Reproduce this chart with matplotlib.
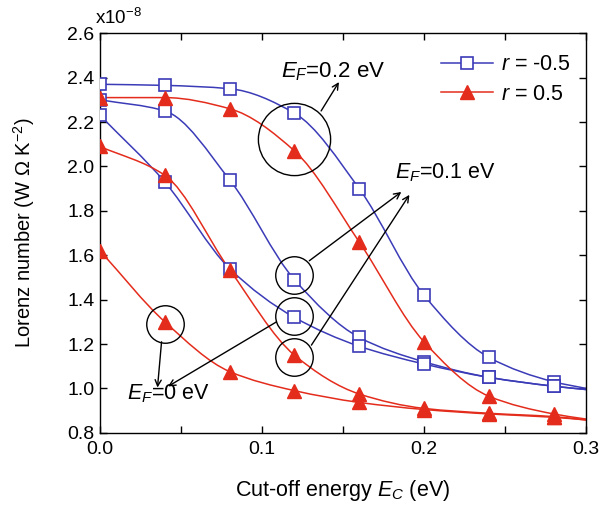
import numpy as np
import matplotlib
matplotlib.use("Agg")
import matplotlib.pyplot as plt
from matplotlib.path import Path
from matplotlib.patches import PathPatch
from matplotlib.lines import Line2D
from matplotlib.ticker import MultipleLocator

plt.rcParams.update({
    "font.family": ["Liberation Sans", "DejaVu Sans"], "font.size": 14,
    "mathtext.fontset": "custom", "mathtext.rm": "Liberation Sans",
    "mathtext.it": "Liberation Sans:italic", "mathtext.bf": "Liberation Sans:bold",
    "axes.linewidth": 1.0,
    "xtick.direction": "in", "ytick.direction": "in",
    "xtick.top": True, "ytick.right": True,
})

# Lorenz number (x1e-8 W Ohm K^-2) vs cut-off energy, markers every 0.04 eV
ec = [0.0, 0.04, 0.08, 0.12, 0.16, 0.20, 0.24, 0.28]
ec_end = 0.30
neg_ef02 = [2.37, 2.365, 2.35, 2.24, 1.90, 1.42, 1.14, 1.03]
neg_ef01 = [2.30, 2.25, 1.94, 1.49, 1.23, 1.12, 1.05, 1.01]
neg_ef00 = [2.23, 1.93, 1.54, 1.32, 1.19, 1.11, 1.05, 1.01]
pos_ef02 = [2.31, 2.31, 2.26, 2.07, 1.66, 1.21, 0.965, 0.885]
pos_ef01 = [2.09, 1.96, 1.535, 1.15, 0.975, 0.91, 0.888, 0.873]
pos_ef00 = [1.62, 1.30, 1.076, 0.99, 0.937, 0.905, 0.885, 0.87]
# curve values at the right edge (no marker there)
neg_end = [1.00, 0.995, 0.995]
pos_end = [0.862, 0.858, 0.858]

BLUE = "#3b3bb8"
RED = "#e42c1c"


def smooth_path(xs, ys):
    """Monotone (Fritsch-Carlson) cubic Bezier path through the points."""
    x = np.asarray(xs, float); y = np.asarray(ys, float)
    h = np.diff(x); d = np.diff(y) / h
    m = np.zeros_like(y)
    m[0], m[-1] = d[0], d[-1]
    for i in range(1, len(y) - 1):
        if d[i - 1] * d[i] > 0:
            w1 = 2 * h[i] + h[i - 1]; w2 = h[i] + 2 * h[i - 1]
            m[i] = (w1 + w2) / (w1 / d[i - 1] + w2 / d[i])
    verts, codes = [(x[0], y[0])], [Path.MOVETO]
    for i in range(len(x) - 1):
        verts += [(x[i] + h[i] / 3, y[i] + m[i] * h[i] / 3),
                  (x[i + 1] - h[i] / 3, y[i + 1] - m[i + 1] * h[i] / 3),
                  (x[i + 1], y[i + 1])]
        codes += [Path.CURVE4] * 3
    return Path(verts, codes)


fig = plt.figure(figsize=(6.06, 5.11), dpi=100)
ax = fig.add_axes([0.165, 0.153, 0.802, 0.782])

series = [(neg_ef02, neg_end[0], BLUE), (neg_ef01, neg_end[1], BLUE), (neg_ef00, neg_end[2], BLUE),
          (pos_ef02, pos_end[0], RED), (pos_ef01, pos_end[1], RED), (pos_ef00, pos_end[2], RED)]
for ys, yend, col in series:
    ax.add_patch(PathPatch(smooth_path(ec + [ec_end], ys + [yend]), fill=False,
                           ec=col, lw=1.1, zorder=2))
for ys in (neg_ef02, neg_ef01, neg_ef00):
    ax.plot(ec, ys, ls="none", marker="s", ms=8.5, mfc="white", mec=BLUE, mew=1.2, zorder=3)
for ys in (pos_ef02, pos_ef01, pos_ef00):
    ax.plot(ec, ys, ls="none", marker="^", ms=10, mfc=RED, mec=RED, zorder=4)

ax.set_xlim(0, 0.3)
ax.set_ylim(0.8, 2.6)
ax.xaxis.set_major_locator(MultipleLocator(0.1))
ax.xaxis.set_minor_locator(MultipleLocator(0.05))
ax.yaxis.set_major_locator(MultipleLocator(0.2))
ax.xaxis.set_major_formatter(lambda v, p: "%.1f" % v)
ax.yaxis.set_major_formatter(lambda v, p: "%.1f" % v)
ax.tick_params(which="both", length=5, width=1.0, labelsize=14)
ax.tick_params(axis="x", pad=6)
ax.tick_params(axis="y", pad=4)

ax.set_xlabel("Cut-off energy $E_C$ (eV)", fontsize=15.5, labelpad=14)
ax.set_ylabel("Lorenz number (W \u03a9 K$^{-2}$)", fontsize=14.5, labelpad=22)
ax.text(-0.01, 1.012, "x10$^{-8}$", transform=ax.transAxes, fontsize=13.5, ha="left", va="bottom")

# circles marking the groups of curves
ax.plot([0.12], [2.124], ls="none", marker="o", ms=52, mfc="none", mec="k", mew=1.0, zorder=5)
for cx, cy in [(0.04, 1.292), (0.12, 1.512), (0.12, 1.326), (0.12, 1.142)]:
    ax.plot([cx], [cy], ls="none", marker="o", ms=27, mfc="none", mec="k", mew=1.0, zorder=5)

arrow = dict(arrowstyle="->", color="k", lw=1.0, shrinkA=0, shrinkB=0,
             mutation_scale=11)
ax.annotate("", xy=(0.1475, 2.38), xytext=(0.1365, 2.25), arrowprops=arrow, zorder=5)
ax.annotate("", xy=(0.186, 1.885), xytext=(0.1292, 1.575), arrowprops=arrow, zorder=5)
ax.annotate("", xy=(0.191, 1.872), xytext=(0.1305, 1.195), arrowprops=arrow, zorder=5)
ax.annotate("", xy=(0.0355, 1.004), xytext=(0.038, 1.21), arrowprops=arrow, zorder=5)
ax.annotate("", xy=(0.0420, 1.009), xytext=(0.1090, 1.30), arrowprops=arrow, zorder=5)

ax.text(0.112, 2.40, "$E_F$=0.2 eV", fontsize=16, ha="left", va="baseline")
ax.text(0.182, 1.948, "$E_F$=0.1 eV", fontsize=15.5, ha="left", va="baseline")
ax.text(0.0165, 0.951, "$E_F$=0 eV", fontsize=15.5, ha="left", va="baseline")

handles = [Line2D([], [], color=BLUE, lw=1.1, marker="s", ms=8.5, mfc="white", mec=BLUE, mew=1.2),
           Line2D([], [], color=RED, lw=1.1, marker="^", ms=10, mfc=RED, mec=RED)]
ax.legend(handles, ["$r$ = -0.5", "$r$ = 0.5"], loc="upper right", bbox_to_anchor=(1.0, 0.985),
          frameon=False, fontsize=15.5, handlelength=2.4, handletextpad=0.4, labelspacing=0.4,
          borderaxespad=0.3)

fig.savefig("out.png", dpi=100)
